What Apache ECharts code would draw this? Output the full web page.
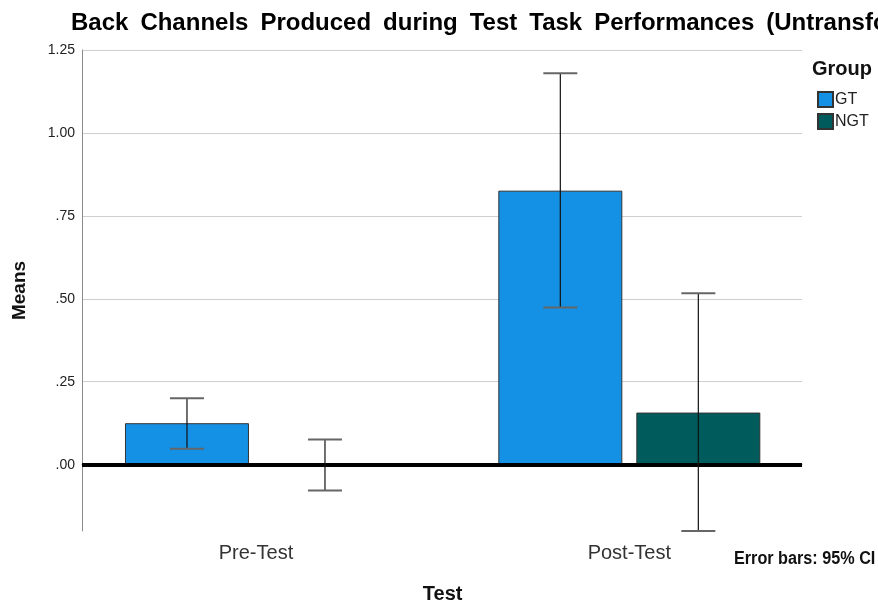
<!DOCTYPE html>
<html><head><meta charset="utf-8">
<script src="https://cdn.jsdelivr.net/npm/echarts@6/dist/echarts.min.js"></script>
<style>html,body{margin:0;padding:0;background:#fff}#c{width:878px;height:602px}</style>
</head><body><div id="c"></div>
<script>
const categories = ['Pre-Test', 'Post-Test'];
const groups = ['GT', 'NGT'];
const gtMeans = [0.125, 0.826];
const ngtMeans = [0.0, 0.157];
const gtLow = [0.048, 0.474];
const gtHigh = [0.200, 1.180];
const ngtLow = [-0.078, -0.200];
const ngtHigh = [0.076, 0.517];
const yTicks = [0, 0.25, 0.5, 0.75, 1.0, 1.25];
const yMin = -0.2, yMax = 1.25;
const titleText = 'Back Channels Produced during Test Task Performances (Untransformed)';

const BAR_W = 124, BAR_GAP = 14;
const OFF = (BAR_W + BAR_GAP) / 2;
const FONT = 'Liberation Sans, Arial, sans-serif';

function fmt(v) {
  const s = v.toFixed(2);
  return v < 1 ? s.replace(/^0/, '') : s;
}

function errRender(offset) {
  return function (params, api) {
    const c = api.value(0);
    const lo = api.coord([c, api.value(1)]);
    const hi = api.coord([c, api.value(2)]);
    const x = lo[0] + offset;
    const half = 17;
    return {
      type: 'group', children: [
        { type: 'line', shape: { x1: x, y1: hi[1], x2: x, y2: lo[1] }, style: { stroke: '#111', lineWidth: 1.2 } },
        { type: 'line', shape: { x1: x - half, y1: hi[1], x2: x + half, y2: hi[1] }, style: { stroke: '#666', lineWidth: 2 } },
        { type: 'line', shape: { x1: x - half, y1: lo[1], x2: x + half, y2: lo[1] }, style: { stroke: '#666', lineWidth: 2 } }
      ]
    };
  };
}

const chart = echarts.init(document.getElementById('c'), null, { renderer: 'canvas' });
chart.setOption({
  animation: false,
  backgroundColor: '#fff',
  textStyle: { fontFamily: FONT },
  title: {
    text: titleText.replace(/ /g, '\u2002'),
    left: 66, top: 6,
    textStyle: { fontFamily: FONT, fontSize: 24, fontWeight: 'bold', color: '#000' }
  },
  legend: {
    data: groups, orient: 'vertical', left: 817, top: 91, padding: 0,
    icon: 'rect', itemWidth: 15, itemHeight: 15, itemGap: 5,
    textStyle: { fontFamily: FONT, fontSize: 16, color: '#222', padding: [0, 0, 0, -3] }
  },
  graphic: [
    { type: 'text', left: 812, top: 59, style: { text: 'Group', fontFamily: FONT, fontSize: 20, fontWeight: 'bold', fill: '#111' } },
    { type: 'text', left: 734, top: 550, scaleX: 0.9, style: { text: 'Error bars: 95% CI', fontFamily: FONT, fontSize: 18, fontWeight: 'bold', fill: '#111' } }
  ],
  grid: [
    { left: 82, right: 76, top: 50, bottom: 71, outerBoundsMode: 'none' },
    { left: 69.3, right: 62, top: 50, bottom: 71, outerBoundsMode: 'none' }
  ],
  xAxis: [
    { type: 'category', gridIndex: 0, data: categories,
      axisLine: { show: true, lineStyle: { color: '#8c8c8c', width: 1 } },
      axisTick: { show: false }, axisLabel: { show: false }, splitLine: { show: false } },
    { type: 'category', gridIndex: 1, data: categories,
      axisLine: { show: false }, axisTick: { show: false },
      axisLabel: { fontFamily: FONT, fontSize: 20, color: '#333', margin: 12 },
      name: 'Test', nameLocation: 'middle', nameGap: 53,
      nameTextStyle: { fontFamily: FONT, fontSize: 20, fontWeight: 'bold', color: '#111' } }
  ],
  yAxis: [
    { type: 'value', gridIndex: 0, min: yMin, max: yMax,
      axisLine: { show: true, lineStyle: { color: '#8c8c8c', width: 1 } },
      axisTick: { show: false, customValues: yTicks },
      axisLabel: { customValues: yTicks, formatter: fmt, fontFamily: FONT, fontSize: 14, color: '#222', margin: 7, padding: [5, 0, 0, 0] },
      splitLine: { show: true, lineStyle: { color: '#cfcfcf', width: 1 } },
      name: 'Means', nameLocation: 'middle', nameGap: 53, nameRotate: 90,
      nameTextStyle: { fontFamily: FONT, fontSize: 19, fontWeight: 'bold', color: '#111' } },
    { type: 'value', gridIndex: 1, min: yMin, max: yMax, show: false, splitLine: { show: false } }
  ],
  series: [
    { name: 'GT', type: 'bar', xAxisIndex: 1, yAxisIndex: 1, data: gtMeans,
      barWidth: BAR_W, barGap: (BAR_GAP / BAR_W * 100) + '%',
      itemStyle: { color: '#1490e4', borderColor: '#333', borderWidth: 1 } },
    { name: 'NGT', type: 'bar', xAxisIndex: 1, yAxisIndex: 1, data: ngtMeans,
      barWidth: BAR_W,
      itemStyle: { color: '#005c5c', borderColor: '#333', borderWidth: 1 } },
    { name: 'zero', type: 'line', xAxisIndex: 0, yAxisIndex: 0, data: ['-', '-'], symbol: 'none',
      z: 5,
      markLine: { silent: true, symbol: 'none', label: { show: false },
        lineStyle: { color: '#000', width: 4, type: 'solid' }, data: [{ yAxis: 0 }] } },
    { name: 'errGT', type: 'custom', xAxisIndex: 1, yAxisIndex: 1, z: 10,
      renderItem: errRender(-OFF),
      data: categories.map((c, i) => [i, gtLow[i], gtHigh[i]]) },
    { name: 'errNGT', type: 'custom', xAxisIndex: 1, yAxisIndex: 1, z: 10,
      renderItem: errRender(OFF),
      data: categories.map((c, i) => [i, ngtLow[i], ngtHigh[i]]) }
  ]
});
</script></body></html>
